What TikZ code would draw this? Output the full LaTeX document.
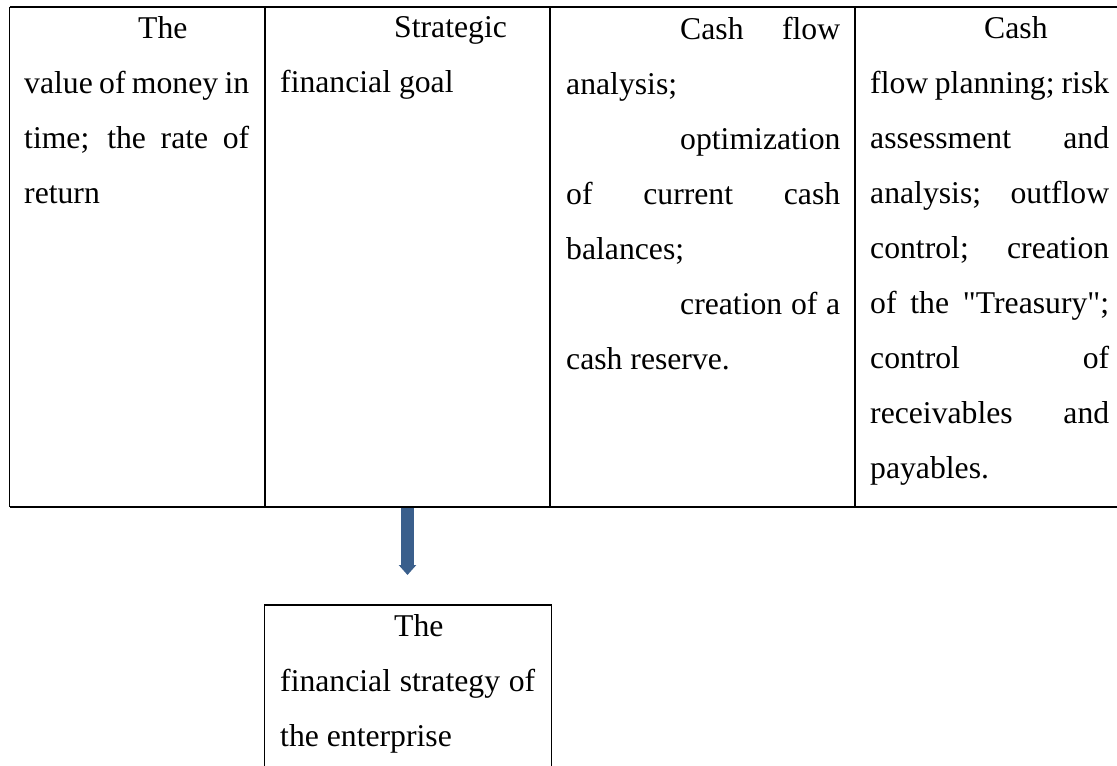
\documentclass[tikz,border=0pt]{standalone}
\usepackage{fontspec}
\setmainfont{Liberation Serif}[Ligatures=TeXOff]
\usetikzlibrary{arrows.meta}
\definecolor{arrowblue}{RGB}{58,95,140}
\setlength{\parindent}{0pt}
\pretolerance=10000 \tolerance=10000 \hbadness=10000 \hyphenpenalty=10000
\newcommand{\firstind}{\hspace*{114pt}}

\tikzset{
  celltext/.style={anchor=north west, inner sep=0pt, align=justify,
    font=\fontsize{31.7pt}{55pt}\selectfont},
  rule/.style={line width=2.8pt},
  gridline/.style={line width=1.5pt},
  bluearrow/.style={line width=13.5pt, color=arrowblue,
    -{Triangle[length=10pt,width=17pt]}}
}

\begin{document}
\begin{tikzpicture}[x=1pt,y=-1pt]
			%%%%% START %%%%%
			\clip (0,0) rectangle (1117,766);
			
			\coordinate (goalfoot) at (407.5,507);
			\coordinate (arrowtip) at (407.5,575);
			\draw[bluearrow] (goalfoot) -- (arrowtip);
			
			\draw[rule] (9.5,7) -- (1117,7);
			\draw[rule] (9.5,507) -- (1117,507);
			\foreach \x in {9.5,265,550,855}
				\draw[gridline] (\x,7) -- (\x,507);
			
			\node[celltext, text width=225pt] (value) at (24,16.7)
				{\firstind The\linebreak value of money in\linebreak time; the rate of\linebreak return};
			\node[celltext, text width=254pt] (goal) at (280,16.7)
				{\firstind Strategic\linebreak financial goal};
			\node[celltext, text width=274pt] (flow) at (566,16.7)
				{\firstind Cash flow\linebreak analysis;\par
				 \firstind optimization\linebreak of current cash\linebreak balances;\par
				 \firstind creation of a\linebreak cash reserve.};
			\node[celltext, text width=239pt] (planning) at (870,16.7)
				{\firstind Cash\linebreak flow planning; risk\linebreak assessment and\linebreak analysis; outflow\linebreak control; creation\linebreak of the "Treasury";\linebreak control of\linebreak receivables and\linebreak payables.};
			
			\draw[gridline] (264.5,766) -- (264.5,605) -- (551.5,605) -- (551.5,766);
			\node[celltext, text width=255pt] (strategy) at (280,614.3)
				{\firstind The\linebreak financial strategy of\linebreak the enterprise};
			
			%%%%% END %%%%%
\end{tikzpicture}
\end{document}
